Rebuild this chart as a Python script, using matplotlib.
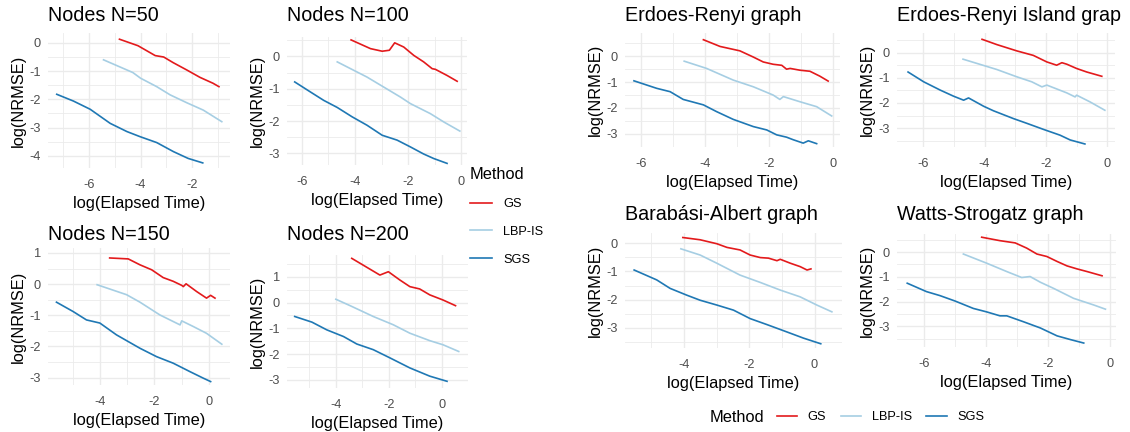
import matplotlib.pyplot as plt
from matplotlib.ticker import MultipleLocator
from matplotlib.lines import Line2D

plt.rcParams.update({'font.family': ['Liberation Sans', 'DejaVu Sans'],
                     'axes.unicode_minus': False})

# values, log scale on both axes
methods = ['GS', 'LBP-IS', 'SGS']
colors = ['#E31A1C', '#A6CEE3', '#1F78B4']

# Nodes N=50
n50_gs_x = [-4.82, -4.1, -3.43, -3.1, -2.73, -2.2, -1.69, -1.18, -0.95]
n50_gs_y = [0.13, -0.1, -0.45, -0.5, -0.7, -0.96, -1.22, -1.43, -1.55]
n50_lbp_x = [-5.44, -4.3, -4.0, -3.37, -2.85, -2.2, -1.56, -0.84]
n50_lbp_y = [-0.6, -1.05, -1.25, -1.55, -1.84, -2.12, -2.38, -2.79]
n50_sgs_x = [-7.26, -6.61, -5.96, -5.18, -4.53, -4.02, -3.37, -2.72, -2.15, -1.58]
n50_sgs_y = [-1.82, -2.06, -2.35, -2.85, -3.14, -3.32, -3.53, -3.85, -4.09, -4.25]

# Nodes N=100
n100_gs_x = [-4.15, -3.42, -2.98, -2.71, -2.51, -2.17, -1.79, -1.42, -1.1, -0.98, -0.54, -0.16]
n100_gs_y = [0.51, 0.24, 0.16, 0.19, 0.42, 0.29, 0.03, -0.17, -0.38, -0.4, -0.59, -0.77]
n100_lbp_x = [-4.67, -3.55, -2.92, -2.29, -1.92, -1.17, -0.66, -0.06]
n100_lbp_y = [-0.17, -0.64, -0.95, -1.26, -1.46, -1.77, -2.03, -2.31]
n100_sgs_x = [-6.27, -5.68, -5.18, -4.67, -4.11, -3.55, -2.98, -2.42, -1.92, -1.42, -1.04, -0.54]
n100_sgs_y = [-0.79, -1.1, -1.36, -1.58, -1.87, -2.13, -2.44, -2.59, -2.8, -3.02, -3.16, -3.31]

# Nodes N=150
n150_gs_x = [-3.64, -2.96, -2.53, -2.1, -1.68, -1.31, -1.0, -0.94, -0.84, -0.45, -0.09, 0.06, 0.22]
n150_gs_y = [0.84, 0.81, 0.62, 0.46, 0.21, 0.09, -0.04, -0.08, 0.01, -0.24, -0.45, -0.36, -0.45]
n150_lbp_x = [-4.1, -3.02, -2.53, -1.8, -1.06, -1.0, -0.58, -0.09, 0.47]
n150_lbp_y = [-0.02, -0.34, -0.58, -0.99, -1.31, -1.18, -1.36, -1.58, -1.93]
n150_sgs_x = [-5.59, -4.98, -4.49, -4.0, -3.39, -2.53, -1.92, -1.31, -0.7, -0.21, 0.06]
n150_sgs_y = [-0.58, -0.88, -1.15, -1.25, -1.63, -2.06, -2.33, -2.54, -2.81, -3.02, -3.13]

# Nodes N=200
n200_gs_x = [-3.4, -2.34, -2.02, -1.59, -1.21, -0.84, -0.46, 0.04, 0.51]
n200_gs_y = [1.72, 1.07, 1.2, 0.88, 0.62, 0.53, 0.3, 0.1, -0.12]
n200_lbp_x = [-4.0, -3.46, -2.59, -1.84, -1.21, -0.46, 0.04, 0.63]
n200_lbp_y = [0.13, -0.12, -0.54, -0.86, -1.19, -1.48, -1.64, -1.9]
n200_sgs_x = [-5.55, -4.9, -4.34, -3.71, -3.21, -2.59, -1.96, -1.21, -0.46, 0.19]
n200_sgs_y = [-0.54, -0.76, -1.06, -1.32, -1.61, -1.83, -2.15, -2.54, -2.86, -3.06]

# Erdoes-Renyi graph
er_gs_x = [-4.06, -3.54, -2.92, -2.5, -2.19, -1.88, -1.61, -1.46, -1.35, -1.04, -0.73, -0.42, -0.16]
er_gs_y = [0.64, 0.38, 0.21, -0.03, -0.22, -0.31, -0.35, -0.5, -0.47, -0.54, -0.58, -0.77, -0.96]
er_lbp_x = [-4.66, -3.96, -3.13, -2.5, -1.88, -1.67, -1.56, -1.04, -0.52, -0.05]
er_lbp_y = [-0.19, -0.47, -0.92, -1.18, -1.5, -1.67, -1.56, -1.76, -1.95, -2.31]
er_sgs_x = [-6.23, -5.52, -5.1, -4.69, -4.06, -3.65, -3.13, -2.5, -2.08, -1.77, -1.46, -1.25, -0.94, -0.78, -0.52]
er_sgs_y = [-0.95, -1.24, -1.37, -1.67, -1.88, -2.14, -2.44, -2.72, -2.85, -3.04, -3.13, -3.23, -3.36, -3.27, -3.38]

# Erdoes-Renyi Island graph
eri_gs_x = [-4.08, -3.6, -2.95, -2.41, -1.97, -1.65, -1.48, -1.32, -1.0, -0.67, -0.18]
eri_gs_y = [0.53, 0.32, 0.07, -0.11, -0.37, -0.5, -0.4, -0.46, -0.63, -0.77, -0.94]
eri_lbp_x = [-4.7, -3.6, -2.95, -2.46, -2.13, -1.97, -1.32, -1.05, -1.0, -0.56, -0.08]
eri_lbp_y = [-0.26, -0.67, -0.96, -1.16, -1.36, -1.29, -1.6, -1.76, -1.69, -1.96, -2.29]
eri_sgs_x = [-6.49, -5.98, -5.44, -5.01, -4.68, -4.52, -4.03, -3.71, -3.06, -2.62, -2.08, -1.54, -1.21, -0.73]
eri_sgs_y = [-0.77, -1.16, -1.49, -1.73, -1.89, -1.8, -2.13, -2.31, -2.62, -2.81, -3.05, -3.28, -3.47, -3.63]

# Barabasi-Albert graph
ba_gs_x = [-4.03, -3.5, -2.99, -2.68, -2.28, -1.97, -1.66, -1.41, -1.15, -1.05, -0.74, -0.44, -0.23, -0.11]
ba_gs_y = [0.2, 0.12, -0.02, -0.15, -0.24, -0.42, -0.51, -0.53, -0.62, -0.57, -0.71, -0.83, -0.95, -0.91]
ba_lbp_x = [-4.09, -3.5, -2.99, -2.28, -1.66, -1.05, -0.44, 0.07, 0.53]
ba_lbp_y = [-0.2, -0.42, -0.71, -1.13, -1.39, -1.66, -1.9, -2.19, -2.43]
ba_sgs_x = [-5.52, -4.83, -4.42, -3.91, -3.5, -2.99, -2.48, -1.97, -1.46, -0.85, -0.34, 0.19]
ba_sgs_y = [-0.95, -1.3, -1.6, -1.84, -2.02, -2.19, -2.37, -2.67, -2.88, -3.14, -3.36, -3.56]

# Watts-Strogatz graph
ws_gs_x = [-4.13, -3.54, -3.05, -2.68, -2.35, -2.03, -1.7, -1.38, -1.06, -0.73, -0.25]
ws_gs_y = [0.6, 0.46, 0.37, 0.16, -0.08, -0.18, -0.38, -0.56, -0.68, -0.79, -0.96]
ws_lbp_x = [-4.72, -3.97, -3.32, -2.84, -2.57, -2.24, -1.81, -1.17, -0.52, -0.14]
ws_lbp_y = [-0.08, -0.45, -0.79, -1.03, -0.99, -1.22, -1.47, -1.87, -2.14, -2.31]
ws_sgs_x = [-6.53, -5.91, -5.48, -4.99, -4.4, -3.97, -3.54, -3.32, -2.78, -2.24, -1.7, -1.27, -0.84]
ws_sgs_y = [-1.26, -1.6, -1.76, -1.98, -2.28, -2.42, -2.58, -2.58, -2.82, -3.07, -3.39, -3.54, -3.68]

W, H = 1130, 432
fig = plt.figure(figsize=(W / 100, H / 100), dpi=100)


def add_panel(box, lims, title, title_y, series):
    # box in pixels: left, top, right, bottom; title_y = title baseline in pixels
    l, t, r, b = box
    ax = fig.add_axes([l / W, 1 - b / H, (r - l) / W, (b - t) / H])
    for (x, y), c in zip(series, colors):
        ax.plot(x, y, color=c, lw=1.2)
    ax.set_xlim(lims[0], lims[1])
    ax.set_ylim(lims[2], lims[3])
    ax.xaxis.set_major_locator(MultipleLocator(2))
    ax.xaxis.set_minor_locator(MultipleLocator(1))
    ax.yaxis.set_major_locator(MultipleLocator(1))
    ax.yaxis.set_minor_locator(MultipleLocator(0.5))
    ax.grid(which='major', color='#EBEBEB', lw=1.0)
    ax.grid(which='minor', color='#EBEBEB', lw=0.6)
    ax.set_axisbelow(True)
    for s in ax.spines.values():
        s.set_visible(False)
    ax.tick_params(which='both', length=0, labelsize=9.2, labelcolor='#4D4D4D')
    ax.tick_params(axis='x', pad=8)
    ax.tick_params(axis='y', pad=5)
    ax.set_title(title, loc='left', fontsize=14.2, pad=(t - title_y) * 0.72)
    ax.set_xlabel('log(Elapsed Time)', fontsize=11.8, labelpad=3.5)
    ax.set_ylabel('log(NRMSE)', fontsize=11.8, labelpad=3)
    return ax


add_panel((48, 33, 230, 168), (-7.6, -0.52, -4.43, 0.35), 'Nodes N=50', 21,
          [(n50_gs_x, n50_gs_y), (n50_lbp_x, n50_lbp_y), (n50_sgs_x, n50_sgs_y)])
add_panel((287, 37, 467, 165), (-6.56, 0.21, -3.36, 0.6), 'Nodes N=100', 21,
          [(n100_gs_x, n100_gs_y), (n100_lbp_x, n100_lbp_y), (n100_sgs_x, n100_sgs_y)])
add_panel((48, 248, 230, 385), (-5.9, 0.77, -3.24, 1.16), 'Nodes N=150', 240,
          [(n150_gs_x, n150_gs_y), (n150_lbp_x, n150_lbp_y), (n150_sgs_x, n150_sgs_y)])
add_panel((287, 255, 468, 388), (-5.84, 0.98, -3.32, 1.85), 'Nodes N=200', 240,
          [(n200_gs_x, n200_gs_y), (n200_lbp_x, n200_lbp_y), (n200_sgs_x, n200_sgs_y)])

add_panel((625, 33, 840, 147), (-6.51, 0.21, -3.51, 0.9), 'Erdoes-Renyi graph', 21,
          [(er_gs_x, er_gs_y), (er_lbp_x, er_lbp_y), (er_sgs_x, er_sgs_y)])
add_panel((897, 33, 1115, 147), (-6.85, 0.25, -3.75, 0.78), 'Erdoes-Renyi Island grap', 21,
          [(eri_gs_x, eri_gs_y), (eri_lbp_x, eri_lbp_y), (eri_sgs_x, eri_sgs_y)])
add_panel((625, 233, 842, 348), (-5.8, 0.84, -3.71, 0.36), 'Barabási-Albert graph', 220,
          [(ba_gs_x, ba_gs_y), (ba_lbp_x, ba_lbp_y), (ba_sgs_x, ba_sgs_y)])
add_panel((897, 234, 1116, 347), (-6.86, 0.2, -3.84, 0.73), 'Watts-Strogatz graph', 220,
          [(ws_gs_x, ws_gs_y), (ws_lbp_x, ws_lbp_y), (ws_sgs_x, ws_sgs_y)])

handles = [Line2D([], [], color=c, lw=1.2) for c in colors]

# legend of the left block (vertical, title on top)
fig.legend(handles, methods, title='Method', loc='upper left',
           bbox_to_anchor=(470 / W, 1 - 167 / H), frameon=False,
           fontsize=9.2, title_fontsize=11.8, alignment='left',
           handlelength=1.7, handletextpad=0.9, labelspacing=1.25,
           borderpad=0, borderaxespad=0)

# legend of the right block (horizontal, title at the left)
fig.text(710 / W, 1 - 417 / H, 'Method', fontsize=11.8, va='center', ha='left')
fig.legend(handles, methods, loc='center left', ncol=3,
           bbox_to_anchor=(777 / W, 1 - 417 / H), frameon=False,
           fontsize=9.2, handlelength=1.6, handletextpad=0.8, columnspacing=1.15,
           borderpad=0, borderaxespad=0)

fig.savefig('out.png', dpi=100)
